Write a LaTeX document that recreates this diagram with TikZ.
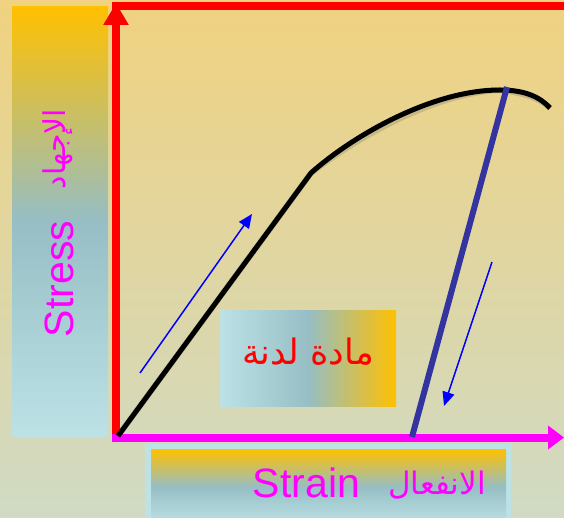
\documentclass[tikz,border=0pt]{standalone}
\usepackage{fontspec}
\usetikzlibrary{arrows.meta}
\TeXXeTstate=1
\newfontfamily\arabicfont[Script=Arabic]{DejaVu Sans}
\newfontfamily\latinfont{Liberation Sans}
\definecolor{bgtop}{RGB}{240,210,128}
\definecolor{bgbot}{RGB}{208,218,196}
\definecolor{gold}{RGB}{255,192,0}
\definecolor{steel}{RGB}{150,190,196}
\definecolor{pale}{RGB}{188,226,230}
\definecolor{navyline}{RGB}{52,52,160}
\definecolor{mag}{RGB}{255,0,255}
\begin{document}
\begin{tikzpicture}[x=1pt,y=-1pt,
  box/.style={inner sep=0pt, draw=none},
  lbl/.style={inner sep=0pt, anchor=base, text=mag},
  axis/.style={line width=8pt},
  thinarrow/.style={blue, line width=1.5pt, -{Triangle[length=14pt,width=12pt]}}]
\shade[top color=bgtop, bottom color=bgbot] (0,0) rectangle (564,518);
\useasboundingbox (0,0) rectangle (564,518);
% boxes
\node (stressbox) [box, anchor=north west, minimum width=96pt, minimum height=430pt,
  top color=gold, bottom color=pale, middle color=steel] at (12,6) {};
\node (midbox) [box, anchor=north west, minimum width=176pt, minimum height=96pt,
  left color=pale, right color=gold, middle color=steel] at (220,310) {};
\node (strainframe) [box, anchor=north west, minimum width=366pt, minimum height=80pt,
  fill=pale] at (145,444) {};
\node (strainbox) [box, anchor=north west, minimum width=355pt, minimum height=75pt,
  top color=gold, bottom color=pale, middle color=steel] at (151,449) {};
% labels
\node (stress) [lbl, rotate=90, font=\latinfont\fontsize{41}{41}\selectfont] at (73,279) {Stress};
\node (ijhad) [lbl, rotate=90, font=\arabicfont\fontsize{30}{30}\selectfont] at (65,149) {\beginR الإجهاد\endR};
\node (strain) [lbl, font=\latinfont\fontsize{41}{41}\selectfont] at (306.5,497) {Strain};
\node (infial) [lbl, font=\arabicfont\fontsize{31}{31}\selectfont] at (437,494) {\beginR الانفعال\endR};
\node (madda) [lbl, text=red, font=\arabicfont\fontsize{35}{35}\selectfont] at (308,364) {\beginR مادة لدنة\endR};
% axes
\coordinate (frameL) at (112,6);
\coordinate (frameR) at (564,6);
\coordinate (ybot) at (116,438);
\coordinate (ytop) at (116,3);
\coordinate (xbot) at (112,437.5);
\coordinate (xend) at (564,437.5);
\draw[red, axis] (frameL) -- (frameR);
\draw[red, axis, -{Triangle[length=22pt,width=24pt]}] (ybot) -- (ytop);
\draw[mag, axis, -{Triangle[length=16pt,width=23pt]}] (xbot) -- (xend);
% curve
\coordinate (O) at (118,436);
\coordinate (knee) at (311,173);
\coordinate (peak) at (500,90);
\coordinate (cend) at (550,108);
\draw[black!60, opacity=0.25, line width=6pt, line join=round, shift={(2pt,-3pt)}] (O) -- (knee) .. controls (350,138) and (430,90) .. (peak) .. controls (525,90) and (540,97) .. (cend);
\draw[black, line width=5pt, line join=round] (O) -- (knee) .. controls (350,138) and (430,90) .. (peak) .. controls (525,90) and (540,97) .. (cend);
% unloading line
\coordinate (unlo) at (412,437);
\coordinate (unhi) at (507,87);
\draw[navyline, line width=6pt] (unlo) -- (unhi);
% thin arrows
\coordinate (la1) at (140,373);
\coordinate (la2) at (252,214);
\coordinate (ra1) at (492,262);
\coordinate (ra2) at (444,406);
\draw[thinarrow] (la1) -- (la2);
\draw[thinarrow] (ra1) -- (ra2);
\end{tikzpicture}
\end{document}
